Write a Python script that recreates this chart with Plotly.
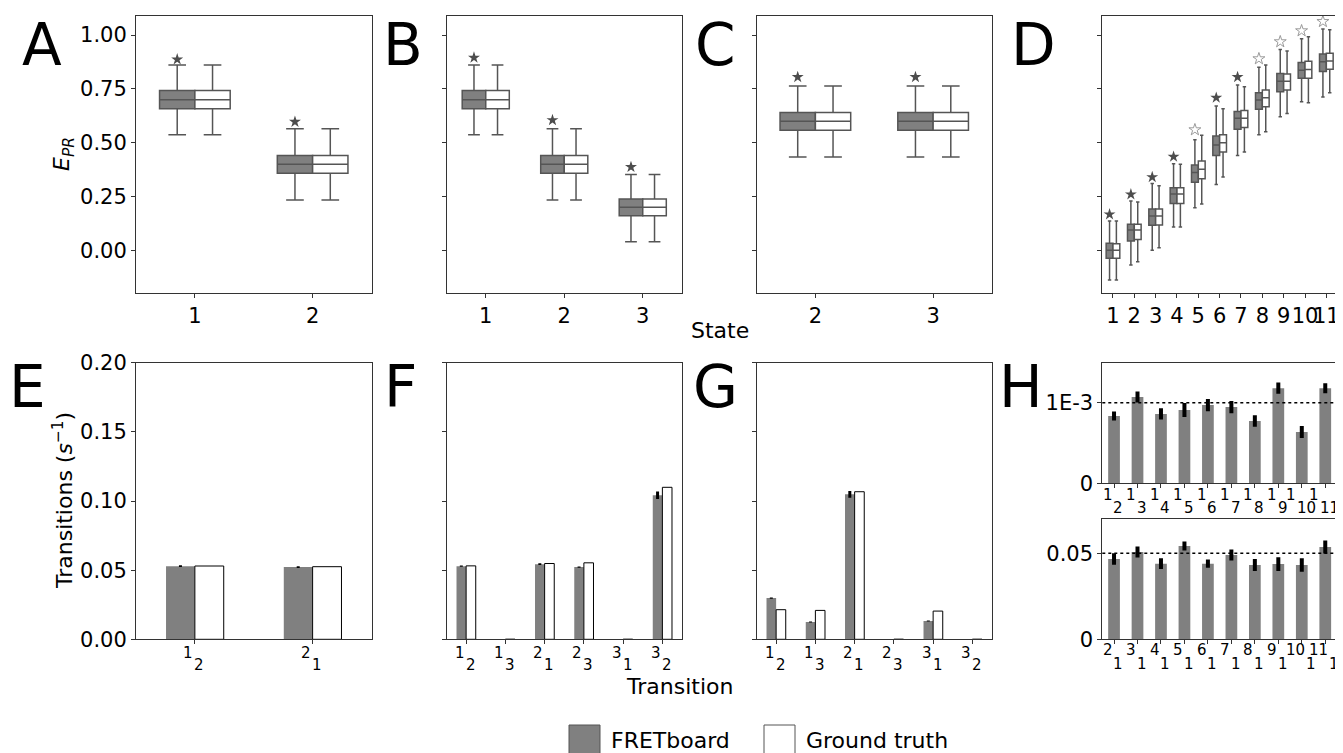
import plotly.graph_objects as go

W, H = 1343, 753
OFF = 8  # page body margin in the browser
FONT = "DejaVu Sans"
GRAY = "#808080"
EDGE = "#555555"
AX = "#333333"

# ---------------- data: box panels (E_PR per state) ----------------
A_states = [1, 2]
A_q1 = [0.658, 0.358]
A_med = [0.700, 0.400]
A_q3 = [0.742, 0.441]
A_lo = [0.537, 0.234]
A_hi = [0.861, 0.565]
A_star = [0.887, 0.597]

B_states = [1, 2, 3]
B_q1 = [0.658, 0.358, 0.160]
B_med = [0.700, 0.400, 0.200]
B_q3 = [0.742, 0.441, 0.238]
B_lo = [0.537, 0.234, 0.040]
B_hi = [0.861, 0.565, 0.352]
B_star = [0.895, 0.605, 0.387]

C_states = [2, 3]
C_q1 = [0.558, 0.558]
C_med = [0.600, 0.600]
C_q3 = [0.640, 0.640]
C_lo = [0.433, 0.433]
C_hi = [0.763, 0.763]
C_star = [0.805, 0.805]

D_states = [1, 2, 3, 4, 5, 6, 7, 8, 9, 10, 11]
D_fret_q1 = [-0.037, 0.043, 0.116, 0.217, 0.316, 0.441, 0.562, 0.655, 0.737, 0.799, 0.831]
D_fret_med = [0.000, 0.094, 0.159, 0.262, 0.361, 0.489, 0.613, 0.698, 0.786, 0.837, 0.876]
D_fret_q3 = [0.033, 0.121, 0.192, 0.291, 0.396, 0.531, 0.645, 0.732, 0.822, 0.873, 0.912]
D_fret_lo = [-0.138, -0.068, 0.000, 0.108, 0.198, 0.306, 0.441, 0.537, 0.621, 0.690, 0.712]
D_fret_hi = [0.136, 0.229, 0.310, 0.402, 0.514, 0.670, 0.768, 0.850, 0.933, 0.983, 1.028]
D_true_q1 = [-0.037, 0.050, 0.118, 0.217, 0.333, 0.457, 0.570, 0.667, 0.745, 0.799, 0.841]
D_true_med = [0.000, 0.094, 0.159, 0.262, 0.376, 0.500, 0.613, 0.709, 0.786, 0.840, 0.879]
D_true_q3 = [0.031, 0.121, 0.192, 0.291, 0.415, 0.537, 0.649, 0.745, 0.819, 0.878, 0.915]
D_true_lo = [-0.138, -0.053, 0.012, 0.108, 0.215, 0.340, 0.457, 0.551, 0.636, 0.686, 0.732]
D_true_hi = [0.136, 0.224, 0.300, 0.400, 0.534, 0.658, 0.760, 0.861, 0.926, 0.992, 1.025]
D_star = [0.167, 0.260, 0.340, 0.435, 0.560, 0.709, 0.805, 0.890, 0.969, 1.020, 1.063]
D_sig = [True, True, True, True, False, True, True, False, False, False, False]

# ---------------- data: transition rate panels ----------------
E_from = ["1", "2"]
E_to = ["2", "1"]
E_fret = [0.0529, 0.0522]
E_err = [0.0006, 0.0006]
E_true = [0.0530, 0.0525]

F_from = ["1", "1", "2", "2", "3", "3"]
F_to = ["2", "3", "1", "3", "1", "2"]
F_fret = [0.0529, 0.0, 0.0543, 0.0522, 0.0, 0.1041]
F_err = [0.0005, 0.0, 0.0006, 0.0005, 0.0, 0.0027]
F_true = [0.0531, 0.0, 0.0548, 0.0553, 0.0, 0.1099]

G_from = ["1", "1", "2", "2", "3", "3"]
G_to = ["2", "3", "1", "3", "1", "2"]
G_fret = [0.0298, 0.0125, 0.1048, 0.0, 0.0132, 0.0]
G_err = [0.0005, 0.0004, 0.0025, 0.0, 0.0004, 0.0]
G_true = [0.0214, 0.0209, 0.1067, 0.0, 0.0204, 0.0]

HT_from = ["1"] * 10
HT_to = ["2", "3", "4", "5", "6", "7", "8", "9", "10", "11"]
HT_fret = [0.835e-3, 1.07e-3, 0.86e-3, 0.91e-3, 0.97e-3, 0.946e-3, 0.773e-3, 1.18e-3, 0.636e-3, 1.18e-3]
HT_err = [0.056e-3, 0.068e-3, 0.070e-3, 0.087e-3, 0.076e-3, 0.076e-3, 0.072e-3, 0.070e-3, 0.074e-3, 0.062e-3]
HT_ref = 1e-3

HB_from = ["2", "3", "4", "5", "6", "7", "8", "9", "10", "11"]
HB_to = ["1"] * 10
HB_fret = [0.0467, 0.0508, 0.0440, 0.0543, 0.0440, 0.0490, 0.0432, 0.0438, 0.0432, 0.0537]
HB_err = [0.0033, 0.0032, 0.0031, 0.0026, 0.0024, 0.0032, 0.0035, 0.0040, 0.0039, 0.0038]
HB_ref = 0.05

E_PR_ticks = [0.0, 0.25, 0.5, 0.75, 1.0]
RATE_ticks = [0.0, 0.05, 0.10, 0.15, 0.20]

# ---------------- layout helpers (screen px -> paper) ----------------
def px(x):
    return (x - OFF) / W

def py(y):
    return 1 - (y - OFF) / H

def xd(x0, x1):
    return [px(x0), px(x1)]

def yd(y0, y1):
    return [py(y1), py(y0)]

TOP = (15.7, 292.7)
BOT = (362.7, 639.3)
COLS = [(136, 371.5), (446.5, 682), (756.5, 992), (1102.3, 1337)]

fig = go.Figure()
layout = dict(
    width=W, height=H, margin=dict(l=0, r=0, t=0, b=0, pad=0, autoexpand=False),
    paper_bgcolor="white", plot_bgcolor="white",
    font=dict(family=FONT, size=21, color="black"),
    showlegend=False, barmode="overlay",
)

def axis(n, letter, domain, rng, **kw):
    name = ("xaxis" if letter == "x" else "yaxis") + ("" if n == 1 else str(n))
    other = ("y" if letter == "x" else "x") + ("" if n == 1 else str(n))
    d = dict(domain=domain, range=rng, anchor=other, showline=True, mirror=True,
             linecolor=AX, linewidth=1, ticks="outside", ticklen=4, tickcolor=AX,
             showgrid=False, zeroline=False, tickfont=dict(size=21, color="black"),
             fixedrange=True, automargin=False, tickangle=0)
    d.update(kw)
    layout[name] = d

EPR_RANGE = [-0.197, 1.09]

def box_panel(n, col, states, groups, rng, show_y, w):
    axis(n, "x", xd(*COLS[col]), rng, tickvals=states, ticktext=[str(s) for s in states])
    axis(n, "y", yd(*TOP), EPR_RANGE, tickvals=E_PR_ticks,
         ticktext=["%.2f" % v for v in E_PR_ticks], showticklabels=show_y)
    xa = "x" if n == 1 else "x%d" % n
    ya = "y" if n == 1 else "y%d" % n
    for (q1, med, q3, lo, hi, fill, sgn) in groups:
        fig.add_trace(go.Box(
            x=[s + sgn * w / 2 for s in states], q1=q1, median=med, q3=q3,
            lowerfence=lo, upperfence=hi, width=w, fillcolor=fill,
            line=dict(color=EDGE, width=1.5), whiskerwidth=0.5, boxpoints=False,
            xaxis=xa, yaxis=ya, hoverinfo="skip"))
    return xa, ya

def stars(xa, ya, states, ys, sig, w):
    fx = [s - w / 2 for s in states]
    for filled in (True, False):
        sx = [x for x, g in zip(fx, sig) if g == filled]
        sy = [y for y, g in zip(ys, sig) if g == filled]
        if not sx:
            continue
        fig.add_trace(go.Scatter(
            x=sx, y=sy, mode="markers", xaxis=xa, yaxis=ya, hoverinfo="skip",
            marker=dict(symbol="star" if filled else "star-open", size=9,
                        color="#4d4d4d" if filled else "#9a9a9a",
                        line=dict(width=0 if filled else 1, color="#9a9a9a"))))

# A
xa, ya = box_panel(1, 0, A_states, [
    (A_q1, A_med, A_q3, A_lo, A_hi, GRAY, -1),
    (A_q1, A_med, A_q3, A_lo, A_hi, "white", 1)], [0.5, 2.5], True, 0.3)
stars(xa, ya, A_states, A_star, [True] * len(A_states), 0.3)
# B
xa, ya = box_panel(2, 1, B_states, [
    (B_q1, B_med, B_q3, B_lo, B_hi, GRAY, -1),
    (B_q1, B_med, B_q3, B_lo, B_hi, "white", 1)], [0.5, 3.5], False, 0.3)
stars(xa, ya, B_states, B_star, [True] * len(B_states), 0.3)
# C
xa, ya = box_panel(3, 2, C_states, [
    (C_q1, C_med, C_q3, C_lo, C_hi, GRAY, -1),
    (C_q1, C_med, C_q3, C_lo, C_hi, "white", 1)], [1.5, 3.5], False, 0.3)
stars(xa, ya, C_states, C_star, [True] * len(C_states), 0.3)
# D
xa, ya = box_panel(4, 3, D_states, [
    (D_fret_q1, D_fret_med, D_fret_q3, D_fret_lo, D_fret_hi, GRAY, -1),
    (D_true_q1, D_true_med, D_true_q3, D_true_lo, D_true_hi, "white", 1)],
    [0.5, 11.5], False, 0.32)
stars(xa, ya, D_states, D_star, D_sig, 0.32)

annotations = []
shapes = []

CW = 9.3
def sub_labels(xa, ya, tops, bots, y_top, y_bot, size=15):
    for i, (t, b) in enumerate(zip(tops, bots)):
        gap = 1.5
        total = (len(t) + len(b)) * CW + gap
        xt = -total / 2 + len(t) * CW / 2 - 1
        xb = -total / 2 + len(t) * CW + gap + len(b) * CW / 2 - 1
        for txt, xs, ys in ((t, xt, y_top), (b, xb, y_bot)):
            annotations.append(dict(
                text=txt, x=i, xref=xa, y=0, yref=ya + " domain",
                xanchor="center", yanchor="middle", xshift=xs, yshift=-ys,
                showarrow=False, font=dict(size=size, family=FONT, color="black")))

def bar_panel(n, col, tops, bots, fret, err, true, show_y):
    idx = list(range(len(fret)))
    axis(n, "x", xd(*COLS[col]), [-0.5, len(fret) - 0.5], tickvals=idx, showticklabels=False)
    axis(n, "y", yd(*BOT), [0, 0.2], tickvals=RATE_ticks,
         ticktext=["%.2f" % v for v in RATE_ticks], showticklabels=show_y)
    xa, ya = "x%d" % n, "y%d" % n
    fig.add_trace(go.Bar(x=idx, y=fret, width=0.245, offset=-0.245, xaxis=xa, yaxis=ya,
                         marker=dict(color=GRAY, line=dict(width=0)), hoverinfo="skip",
                         error_y=dict(type="data", array=err, color="black", thickness=3, width=0)))
    fig.add_trace(go.Bar(x=idx, y=true, width=0.245, offset=0, xaxis=xa, yaxis=ya,
                         marker=dict(color="white", line=dict(width=1, color="black")),
                         hoverinfo="skip"))
    sub_labels(xa, ya, tops, bots, 14, 26)

bar_panel(5, 0, E_from, E_to, E_fret, E_err, E_true, True)
bar_panel(6, 1, F_from, F_to, F_fret, F_err, F_true, False)
bar_panel(7, 2, G_from, G_to, G_fret, G_err, G_true, False)

def h_panel(n, ydom, tops, bots, vals, err, ref, top_val, ticklabel, ys):
    idx = list(range(len(vals)))
    axis(n, "x", xd(*COLS[3]), [-0.5, len(vals) - 0.5], tickvals=idx, showticklabels=False)
    axis(n, "y", yd(*ydom), [0, top_val], tickvals=[0, ref], ticktext=["0", ticklabel])
    xa, ya = "x%d" % n, "y%d" % n
    fig.add_trace(go.Bar(x=idx, y=vals, width=0.5, xaxis=xa, yaxis=ya,
                         marker=dict(color=GRAY, line=dict(width=0)), hoverinfo="skip",
                         error_y=dict(type="data", array=err, color="black", thickness=4, width=0)))
    shapes.append(dict(type="line", xref=xa + " domain", x0=0, x1=1, yref=ya, y0=ref, y1=ref,
                       line=dict(color="black", width=1.5, dash="dot")))
    sub_labels(xa, ya, tops, bots, ys[0], ys[1])

h_panel(8, (362.7, 483.3), HT_from, HT_to, HT_fret, HT_err, HT_ref, 1.496e-3, "1E-3", (12, 25))
h_panel(9, (519.0, 639.3), HB_from, HB_to, HB_fret, HB_err, HB_ref, 0.07, "0.05", (11, 25))

# panel letters
letters = [("A", 42, 45), ("B", 403, 45), ("C", 716, 45), ("D", 1033, 45),
           ("E", 27, 387), ("F", 401, 387), ("G", 715, 387), ("H", 1021, 387)]
for t, lx, ly in letters:
    annotations.append(dict(text=t, x=px(lx), y=py(ly), xref="paper", yref="paper",
                            xanchor="center", yanchor="middle", showarrow=False,
                            font=dict(size=58, family=FONT, color="black")))

# axis titles
annotations += [
    dict(text="<i>E</i><sub><i>PR</i></sub>", x=px(63), y=py(154), xref="paper", yref="paper",
         textangle=-90, showarrow=False, xanchor="center", yanchor="middle",
         font=dict(size=22, family=FONT, color="black")),
    dict(text="Transitions (<i>s</i><sup>−1</sup>)", x=px(63), y=py(501), xref="paper",
         yref="paper", textangle=-90, showarrow=False, xanchor="center", yanchor="middle",
         font=dict(size=22, family=FONT, color="black")),
    dict(text="State", x=px(720), y=py(330), xref="paper", yref="paper", showarrow=False,
         xanchor="center", yanchor="middle", font=dict(size=22, family=FONT, color="black")),
    dict(text="Transition", x=px(679), y=py(686), xref="paper", yref="paper", showarrow=False,
         xanchor="center", yanchor="middle", font=dict(size=22, family=FONT, color="black")),
]

# legend (drawn manually)
legend_items = [("FRETboard", GRAY, 569), ("Ground truth", "white", 764)]
for name, fill, lx in legend_items:
    shapes.append(dict(type="rect", xref="paper", yref="paper", x0=px(lx), x1=px(lx + 31),
                       y0=py(758), y1=py(725), fillcolor=fill,
                       line=dict(color=EDGE, width=1)))
    annotations.append(dict(text=name, x=px(lx + 40), y=py(740), xref="paper", yref="paper",
                            showarrow=False, xanchor="left", yanchor="middle",
                            font=dict(size=22, family=FONT, color="black")))

layout["annotations"] = annotations
layout["shapes"] = shapes
fig.update_layout(**layout)
fig.write_html("out.html")
